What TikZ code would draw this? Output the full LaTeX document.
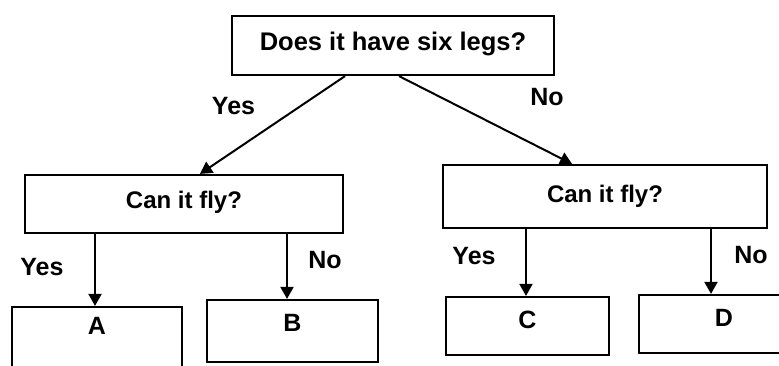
\documentclass[tikz,border=0pt]{standalone}
\usepackage{fontspec}
\setmainfont{Liberation Sans}
\usetikzlibrary{arrows.meta}
\begin{document}
\begin{tikzpicture}[x=1pt,y=-1pt,
  box/.style={draw, line width=2.2pt, inner sep=0pt, font=\bfseries\fontsize{24}{28}\selectfont},
  leaf/.style={box, minimum width=170pt, minimum height=60pt, text height=18pt, text depth=14pt, font=\bfseries\fontsize{25}{28}\selectfont},
  lbl/.style={inner sep=0pt, font=\bfseries\fontsize{25}{28}\selectfont},
  conn/.style={line width=2pt, -{Triangle[length=12pt,width=13pt]}}]
\useasboundingbox (0,0) rectangle (779,365);
\clip (0,0) rectangle (779,365);
\fill[white] (0,0) rectangle (779,365);
% boxes
\node[box, minimum width=322pt, minimum height=59pt, text height=18pt, text depth=9pt, font=\bfseries\fontsize{25.5}{30}\selectfont] (top) at (393,45.5) {Does it have six legs?};
\node[box, minimum width=318pt, minimum height=58pt, text height=18pt, text depth=10pt] (lm) at (184,204) {Can it fly?};
\node[box, minimum width=324pt, minimum height=63pt] (rm) at (605,196.5) {Can it fly?};
\node[leaf, minimum height=64pt, text depth=28pt] (A) at (97,339) {A};
\node[leaf, minimum width=171pt, minimum height=62pt, text depth=17pt] (B) at (292.5,331) {B};
\node[leaf, minimum width=163pt, minimum height=58pt] (C) at (527.5,326) {C};
\node[leaf, minimum width=170pt, minimum height=58pt] (D) at (724,324) {D};
% connectors
\draw[conn] ([xshift=-48pt]top.south) -- ([xshift=16pt]lm.north);
\draw[conn] ([xshift=6pt]top.south) -- ([xshift=-33pt]rm.north);
\draw[conn] ([xshift=-89pt]lm.south) -- ([xshift=-2pt]A.north);
\draw[conn] ([xshift=103pt]lm.south) -- ([xshift=-5.5pt]B.north);
\draw[conn] ([xshift=-79pt]rm.south) -- ([xshift=-1.5pt]C.north);
\draw[conn] ([xshift=106pt]rm.south) -- ([xshift=-13pt]D.north);
% labels
\node[lbl] (y1) at (233.5,106) {Yes};
\node[lbl] (n1) at (547,97.5) {No};
\node[lbl] (y2) at (42,267.5) {Yes};
\node[lbl] (n2) at (325,260) {No};
\node[lbl] (y3) at (474,256) {Yes};
\node[lbl] (n3) at (751,255) {No};
\end{tikzpicture}
\end{document}
